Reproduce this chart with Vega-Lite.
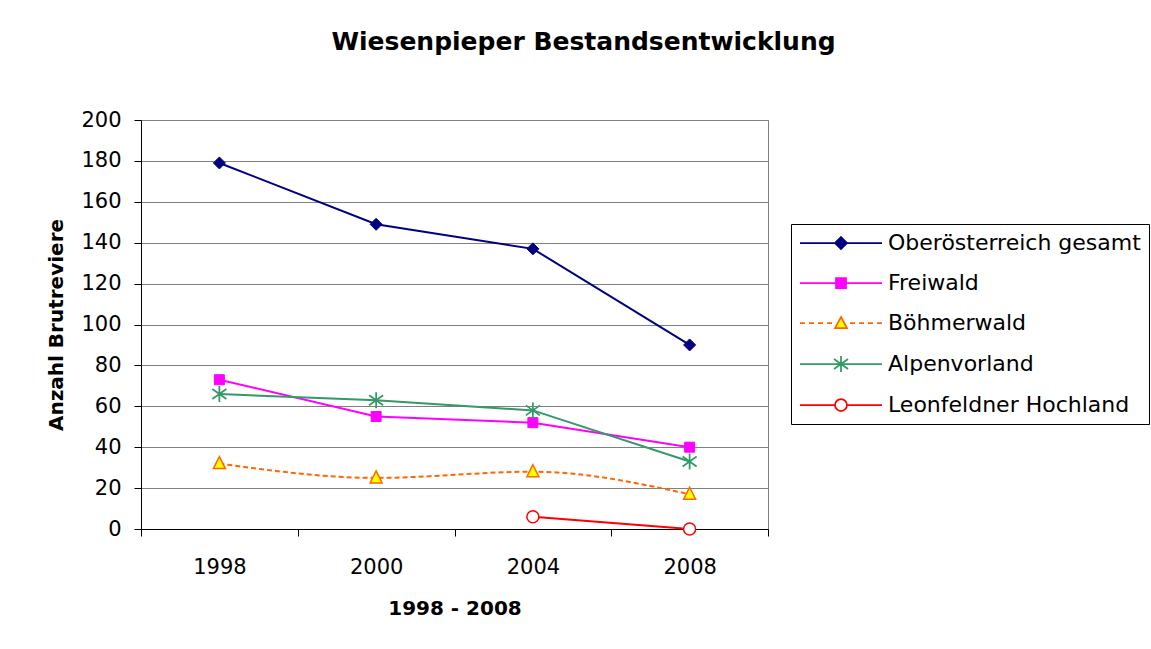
{
  "$schema": "https://vega.github.io/schema/vega-lite/v6.json",
  "width": 627,
  "height": 409,
  "autosize": {"type": "none"},
  "padding": {"left": 141, "top": 120, "right": 383, "bottom": 120},
  "background": "white",
  "title": {
    "text": "Wiesenpieper Bestandsentwicklung",
    "font": "DejaVu Sans",
    "fontSize": 25,
    "fontWeight": "bold",
    "color": "black",
    "anchor": "middle",
    "dx": 129,
    "offset": 54
  },
  "config": {
    "font": "DejaVu Sans",
    "view": {"stroke": "#808080", "strokeWidth": 1}
  },
  "data": {
    "values": [
      {"series": "Oberösterreich gesamt", "year": "1998", "value": 179},
      {"series": "Oberösterreich gesamt", "year": "2000", "value": 149},
      {"series": "Oberösterreich gesamt", "year": "2004", "value": 137},
      {"series": "Oberösterreich gesamt", "year": "2008", "value": 90},
      {"series": "Freiwald", "year": "1998", "value": 73},
      {"series": "Freiwald", "year": "2000", "value": 55},
      {"series": "Freiwald", "year": "2004", "value": 52},
      {"series": "Freiwald", "year": "2008", "value": 40},
      {"series": "Böhmerwald", "year": "1998", "value": 32},
      {"series": "Böhmerwald", "year": "2000", "value": 25},
      {"series": "Böhmerwald", "year": "2004", "value": 28},
      {"series": "Böhmerwald", "year": "2008", "value": 17},
      {"series": "Alpenvorland", "year": "1998", "value": 66},
      {"series": "Alpenvorland", "year": "2000", "value": 63},
      {"series": "Alpenvorland", "year": "2004", "value": 58},
      {"series": "Alpenvorland", "year": "2008", "value": 33},
      {"series": "Leonfeldner Hochland", "year": "2004", "value": 6},
      {"series": "Leonfeldner Hochland", "year": "2008", "value": 0}
    ]
  },
  "encoding": {
    "x": {
      "field": "year",
      "type": "ordinal",
      "scale": {"type": "band", "paddingInner": 0, "paddingOuter": 0},
      "axis": {
        "title": "1998 - 2008",
        "labelAngle": 0,
        "tickBand": "extent",
        "tickSize": 7,
        "tickColor": "black",
        "domainColor": "black",
        "labelFont": "DejaVu Sans",
        "labelFontSize": 21,
        "labelColor": "black",
        "labelPadding": 20,
        "titleFont": "DejaVu Sans",
        "titleFontSize": 20,
        "titleFontWeight": "bold",
        "titleColor": "black",
        "titlePadding": 21,
        "grid": false
      }
    },
    "y": {
      "field": "value",
      "type": "quantitative",
      "scale": {"domain": [0, 200], "nice": false},
      "axis": {
        "title": "Anzahl Brutreviere",
        "values": [0, 20, 40, 60, 80, 100, 120, 140, 160, 180, 200],
        "tickSize": 7,
        "tickColor": "black",
        "domainColor": "black",
        "grid": true,
        "gridColor": "#808080",
        "gridWidth": 1,
        "labelFont": "DejaVu Sans",
        "labelFontSize": 21,
        "labelColor": "black",
        "labelPadding": 13,
        "titleFont": "DejaVu Sans",
        "titleFontSize": 20,
        "titleFontWeight": "bold",
        "titleColor": "black",
        "titlePadding": 14
      }
    }
  },
  "layer": [
    {
      "transform": [{"filter": "datum.series !== 'Böhmerwald'"}],
      "mark": {"type": "line", "strokeWidth": 2},
      "encoding": {
        "color": {
          "field": "series",
          "type": "nominal",
          "sort": null,
          "scale": {
            "domain": ["Oberösterreich gesamt", "Freiwald", "Böhmerwald", "Alpenvorland", "Leonfeldner Hochland"],
            "range": ["#000080", "#FF00FF", "#FF6600", "#339966", "#FF0000"]
          },
          "legend": {
            "orient": "none",
            "legendX": 650,
            "legendY": 104,
            "title": null,
            "padding": 8,
            "strokeColor": "#000000",
            "fillColor": "white",
            "labelFont": "DejaVu Sans",
            "labelFontSize": 22,
            "labelColor": "black",
            "labelLimit": 0,
            "symbolSize": 4,
            "symbolStrokeWidth": 1.75,
            "labelOffset": 67,
            "rowPadding": 18,
            "encode": {
              "symbols": {
                "update": {
                  "shape": {"signal": "datum.value === 'Oberösterreich gesamt' ? 'M-41,0L41,0M0,-6L6,0L0,6L-6,0Z' : datum.value === 'Freiwald' ? 'M-41,0L41,0M-5,-5L5,-5L5,5L-5,5Z' : datum.value === 'Böhmerwald' ? 'M-41,0L-36,0M-32,0L-27,0M-23,0L-18,0M-14,0L-9,0M9,0L14,0M18,0L23,0M27,0L32,0M36,0L41,0M0,-6L6,5L-6,5Z' : datum.value === 'Alpenvorland' ? 'M-41,0L41,0M0,-8L0,8M-7,-5L7,5M-7,5L7,-5' : 'M-41,0L-6,0M6,0L41,0M-6,0A6,6,0,1,1,6,0A6,6,0,1,1,-6,0Z'"},
                  "fill": {"signal": "datum.value === 'Oberösterreich gesamt' ? '#000080' : datum.value === 'Freiwald' ? '#FF00FF' : datum.value === 'Böhmerwald' ? '#FFFF00' : datum.value === 'Alpenvorland' ? 'transparent' : '#FFFFFF'"},
                  "stroke": {"signal": "datum.value === 'Oberösterreich gesamt' ? '#000080' : datum.value === 'Freiwald' ? '#FF00FF' : datum.value === 'Böhmerwald' ? '#FF6600' : datum.value === 'Alpenvorland' ? '#339966' : '#FF0000'"},
                  "size": {"value": 4},
                  "x": {"value": 42},
                  "opacity": {"value": 1},
                  "strokeWidth": {"value": 1.75}
                }
              }
            }
          }
        }
      }
    },
    {
      "transform": [{"filter": "datum.series === 'Böhmerwald'"}],
      "mark": {"type": "line", "strokeWidth": 2, "interpolate": "monotone", "strokeDash": [5, 3]},
      "encoding": {
        "color": {"field": "series", "type": "nominal", "sort": null}
      }
    },
    {
      "transform": [{"filter": "datum.series === 'Oberösterreich gesamt'"}],
      "mark": {"type": "point", "shape": "M0,-6L6,0L0,6L-6,0Z", "size": 4, "filled": true, "fill": "#000080", "stroke": "#000080", "strokeWidth": 1, "opacity": 1}
    },
    {
      "transform": [{"filter": "datum.series === 'Freiwald'"}],
      "mark": {"type": "point", "shape": "M-5,-5L5,-5L5,5L-5,5Z", "size": 4, "filled": true, "fill": "#FF00FF", "stroke": "#FF00FF", "strokeWidth": 1, "opacity": 1}
    },
    {
      "transform": [{"filter": "datum.series === 'Böhmerwald'"}],
      "mark": {"type": "point", "shape": "M0,-7L6,5L-6,5Z", "size": 4, "filled": true, "fill": "#FFFF00", "stroke": "#FF6600", "strokeWidth": 1.5, "opacity": 1}
    },
    {
      "transform": [{"filter": "datum.series === 'Alpenvorland'"}],
      "mark": {"type": "point", "shape": "M0,-8L0,8M-7,-5L7,5M-7,5L7,-5", "size": 4, "filled": false, "stroke": "#339966", "strokeWidth": 1.75, "opacity": 1}
    },
    {
      "transform": [{"filter": "datum.series === 'Leonfeldner Hochland'"}],
      "mark": {"type": "point", "shape": "M-6,0A6,6,0,1,1,6,0A6,6,0,1,1,-6,0Z", "size": 4, "filled": true, "fill": "#FFFFFF", "stroke": "#FF0000", "strokeWidth": 1.5, "opacity": 1}
    }
  ]
}
